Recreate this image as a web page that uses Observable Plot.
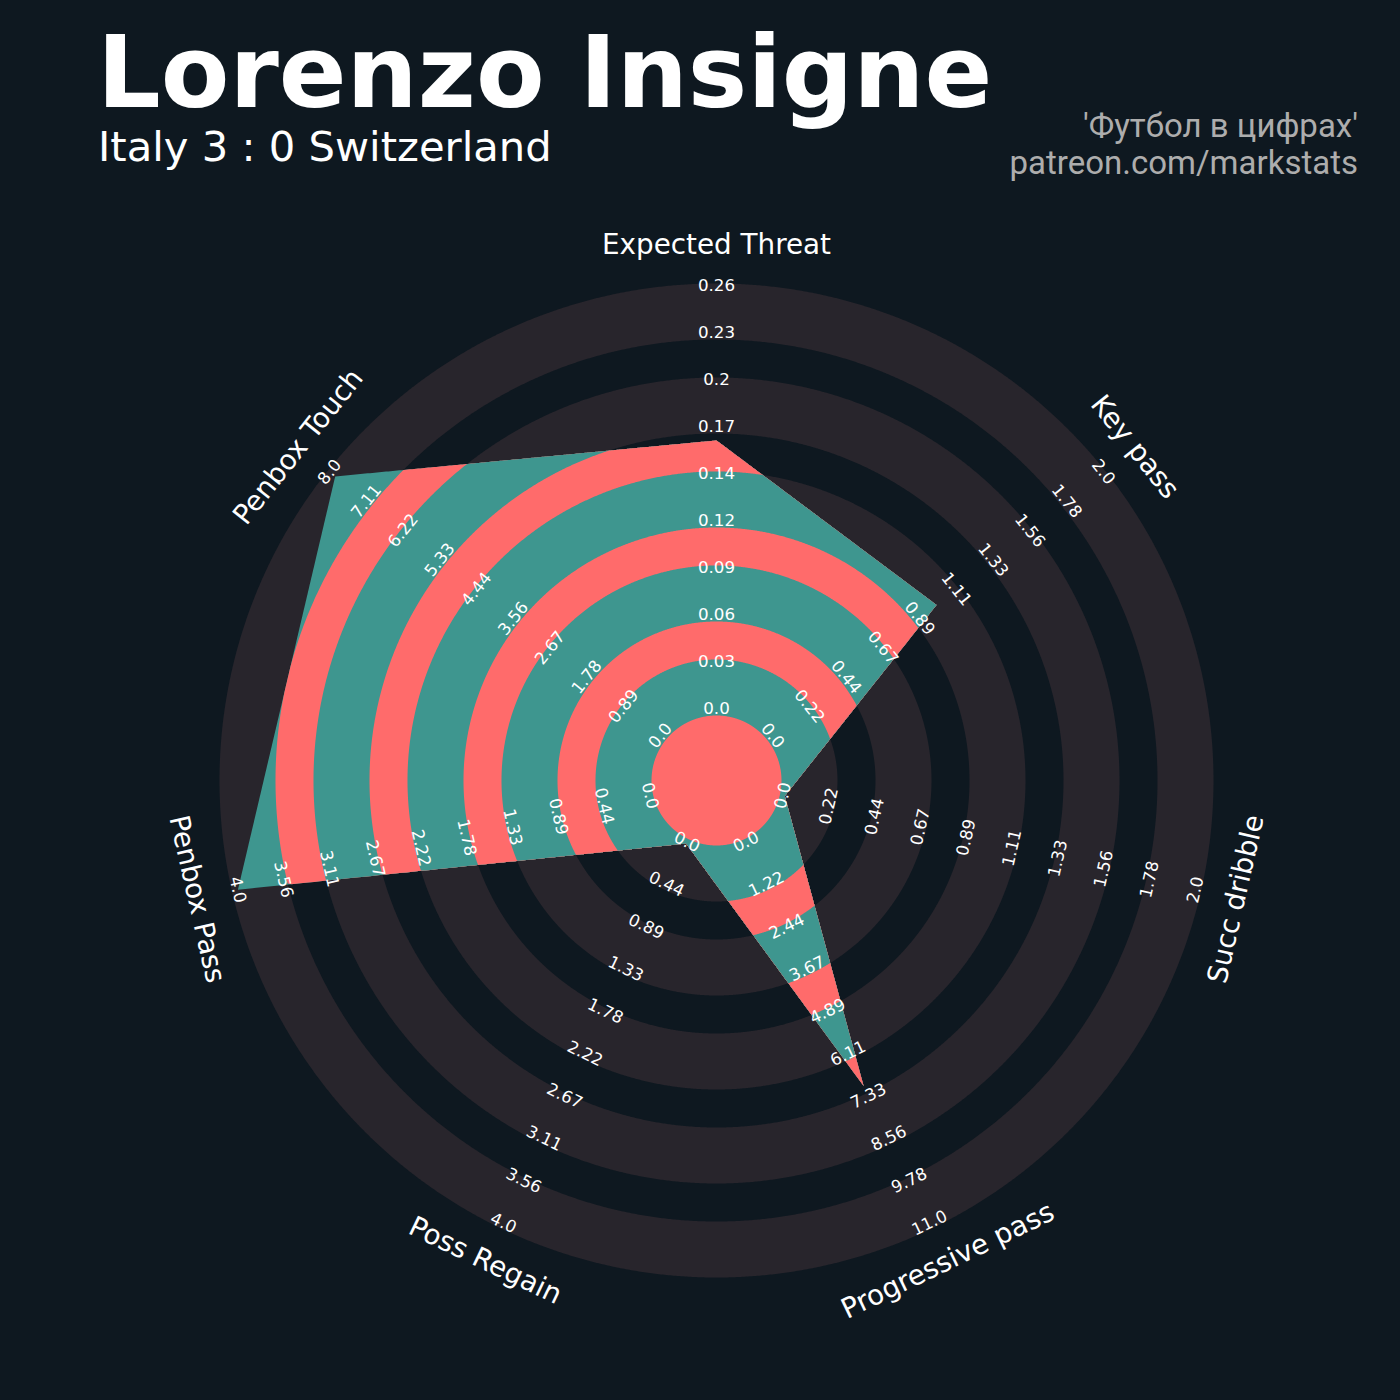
<!DOCTYPE html>
<html>
<head>
<meta charset="utf-8">
<script src="https://cdn.jsdelivr.net/npm/d3@7"></script>
<script src="https://cdn.jsdelivr.net/npm/@observablehq/plot@0.6"></script>
<style>
  html, body { margin: 0; padding: 0; background: #0e1820; }
  #page { position: relative; width: 1400px; height: 1400px; overflow: hidden; background: #0e1820; }
  #head { position: relative; width: 1400px; height: 200px; }
  .t { position: absolute; white-space: nowrap; line-height: 1; }
  #title { left: 97px; top: 23px; font-family: "DejaVu Sans"; font-weight: bold; font-size: 100px; color: #ffffff; }
  #sub { left: 98px; top: 126px; font-family: "DejaVu Sans"; font-size: 41.7px; color: #ffffff; }
  #cred1, #cred2 { right: 42px; font-family: Roboto; font-size: 33px; color: #adadad; text-align: right; }
  #cred1 { top: 109px; }
  #cred2 { top: 146px; }
  #chart svg { display: block; }
</style>
</head>
<body>
<div id="page">
  <div id="head">
    <div class="t" id="title">Lorenzo Insigne</div>
    <div class="t" id="sub">Italy 3 : 0 Switzerland</div>
    <div class="t" id="cred1">'Футбол в цифрах'</div>
    <div class="t" id="cred2">patreon.com/markstats</div>
  </div>
  <div id="chart"></div>
</div>
<script>
// ---------------- data ----------------
const params = ["Expected Threat", "Key pass", "Succ dribble", "Progressive pass", "Poss Regain", "Penbox Pass", "Penbox Touch"];
const values = [0.166, 1.0, 0, 7.0, 0, 3.98, 7.9];
const lowRange = [0, 0, 0, 0, 0, 0, 0];
const highRange = [0.26, 2, 2, 11, 4, 4, 8];

const ticksExpectedThreat = ["0.0", "0.03", "0.06", "0.09", "0.12", "0.14", "0.17", "0.2", "0.23", "0.26"];
const ticksKeyPass = ["0.0", "0.22", "0.44", "0.67", "0.89", "1.11", "1.33", "1.56", "1.78", "2.0"];
const ticksSuccDribble = ["0.0", "0.22", "0.44", "0.67", "0.89", "1.11", "1.33", "1.56", "1.78", "2.0"];
const ticksProgressivePass = ["0.0", "1.22", "2.44", "3.67", "4.89", "6.11", "7.33", "8.56", "9.78", "11.0"];
const ticksPossRegain = ["0.0", "0.44", "0.89", "1.33", "1.78", "2.22", "2.67", "3.11", "3.56", "4.0"];
const ticksPenboxPass = ["0.0", "0.44", "0.89", "1.33", "1.78", "2.22", "2.67", "3.11", "3.56", "4.0"];
const ticksPenboxTouch = ["0.0", "0.89", "1.78", "2.67", "3.56", "4.44", "5.33", "6.22", "7.11", "8.0"];
const tickLabels = [ticksExpectedThreat, ticksKeyPass, ticksSuccDribble, ticksProgressivePass, ticksPossRegain, ticksPenboxPass, ticksPenboxTouch];

// ---------------- layout / style ----------------
const BG = "#0e1820", GRAY = "#28252c", TEAL = "#3e968f", RED = "#ff6b6b";
const ringEdges = [497, 441, 403, 347, 309, 253, 215, 159, 121, 65]; // band boundaries (outer to inner)
const R_LOW = 70, R_HIGH = 493, R_PARAM = 534;
const TICK_SHIFT = 1.8, PARAM_SHIFT = 1;

const n = params.length;
const angleDeg = i => i * 360 / n;
const radial = params.map((p, i) => d3.scaleLinear().domain([lowRange[i], highRange[i]]).range([R_LOW, R_HIGH]));
const polar = (r, deg) => {
  const a = deg * Math.PI / 180;
  return {x: r * Math.sin(a), y: r * Math.cos(a)};
};

// polygon vertices
const verts = values.map((v, i) => polar(radial[i](v), angleDeg(i)));
const cross = (a, b) => a.x * b.y - a.y * b.x;
function rho(deg, seg) {
  const a = deg * Math.PI / 180;
  const d = {x: Math.sin(a), y: Math.cos(a)};
  const P = verts[seg], Q = verts[(seg + 1) % n];
  const e = {x: Q.x - P.x, y: Q.y - P.y};
  return cross(P, e) / cross(d, e);
}
const samples = [];
const STEPS = 240;
for (let i = 0; i < n; i++) {
  const a0 = angleDeg(i), a1 = angleDeg(i + 1);
  for (let s = 0; s < STEPS; s++) {
    samples.push({deg: a0 + (a1 - a0) * s / STEPS, seg: i});
  }
}
const diskPts = R => samples.map(s => polar(R, s.deg));
const polyPts = R => samples.map(s => polar(Math.min(rho(s.deg, s.seg), R), s.deg));

const marks = [];
ringEdges.forEach((R, k) => {
  marks.push(Plot.line(diskPts(R), {x: "x", y: "y", curve: "linear-closed", fill: k % 2 === 0 ? GRAY : BG, stroke: "none"}));
});
ringEdges.forEach((R, k) => {
  marks.push(Plot.line(polyPts(R), {x: "x", y: "y", curve: "linear-closed", fill: k % 2 === 0 ? TEAL : RED, stroke: "none"}));
});

const flipped = deg => !(deg <= 90 || deg >= 270);
const rot = deg => flipped(deg) ? deg - 180 : deg;

const tickRows = [];
tickLabels.forEach((labels, i) => {
  const deg = angleDeg(i);
  labels.forEach((lab, k) => {
    const frac = k / (labels.length - 1);
    const r = radial[i](lowRange[i] + frac * (highRange[i] - lowRange[i]));
    const p = polar(r + (flipped(deg) ? -TICK_SHIFT : TICK_SHIFT), deg);
    tickRows.push({x: p.x, y: p.y, label: lab, rotate: rot(deg)});
  });
});
const paramRows = params.map((p, i) => {
  const deg = angleDeg(i);
  const q = polar(R_PARAM + (flipped(deg) ? -PARAM_SHIFT : PARAM_SHIFT), deg);
  return {x: q.x, y: q.y, label: p, rotate: rot(deg)};
});

marks.push(Plot.text(tickRows, {x: "x", y: "y", text: "label", rotate: "rotate", fill: "#ffffff", fontSize: 16.7, fontFamily: "DejaVu Sans", textAnchor: "middle", lineAnchor: "middle"}));
marks.push(Plot.text(paramRows, {x: "x", y: "y", text: "label", rotate: "rotate", fill: "#ffffff", fontSize: 27.8, fontFamily: "DejaVu Sans", textAnchor: "middle", lineAnchor: "middle"}));

const chart = Plot.plot({
  width: 1400,
  height: 1200,
  margin: 0,
  x: {domain: [-716, 684], axis: null},
  y: {domain: [-620, 580], axis: null},
  style: {background: BG, overflow: "visible"},
  marks
});
document.getElementById("chart").appendChild(chart);
</script>
</body>
</html>
